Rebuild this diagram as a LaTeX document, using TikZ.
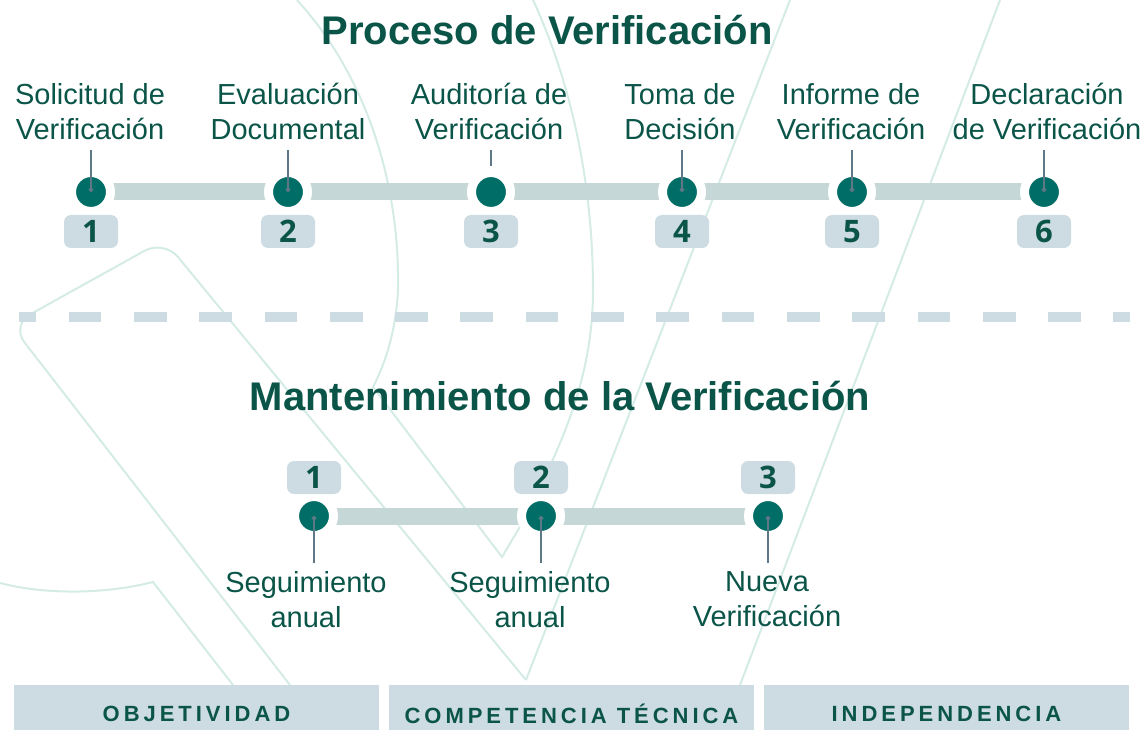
\documentclass[tikz,border=0pt]{standalone}
\usepackage{fontspec}
\setmainfont{Liberation Sans}
\newfontfamily\numfont{Open Sans}
\newfontfamily\capsfont[LetterSpace=18]{Liberation Sans}
\usetikzlibrary{positioning, calc, arrows.meta}

\definecolor{textc}{HTML}{0A5448}
\definecolor{dotc}{HTML}{006D66}
\definecolor{barc}{HTML}{C6D7D7}
\definecolor{boxc}{HTML}{CDDBE2}
\definecolor{leadc}{HTML}{5F7888}
\definecolor{mintc}{HTML}{D4EBE6}

\pgfdeclarelayer{back}
\pgfdeclarelayer{bars}
\pgfsetlayers{back,bars,main}

\begin{document}
\begin{tikzpicture}[
    % GLOBAL CFG
    x=1pt, y=-1pt,
    text=textc,
    % Styles
    title/.style={% For both headings
        font=\bfseries\fontsize{40}{48}\selectfont,
        inner sep=0pt,
    },
    stagelabel/.style={% For the step names
        font=\fontsize{29}{35}\selectfont,
        align=center,
        inner sep=0pt,
    },
    dot/.style={% For the timeline points
        circle,
        fill=dotc,
        draw=white,
        line width=9pt,
        minimum size=39pt,
        inner sep=0pt,
    },
    numbox/.style={% For the step numbers
        rectangle,
        rounded corners=7pt,
        fill=boxc,
        minimum width=54pt,
        minimum height=33pt,
        inner sep=0pt,
        font=\numfont\bfseries\fontsize{31}{31}\selectfont,
    },
    valuebox/.style={% For the three values at the bottom
        rectangle,
        fill=boxc,
        minimum width=365pt,
        minimum height=57pt,
        inner sep=0pt,
        font=\capsfont\bfseries\fontsize{22}{26}\selectfont,
    },
    bar/.style={% Timeline track
        draw=barc,
        line width=17pt,
    },
    leader/.style={% Thin line from label to point
        draw=leadc,
        line width=1.8pt,
        -{Circle[length=4.5pt]},
    },
    bgline/.style={% Watermark strokes
        draw=mintc,
        line width=2pt,
    },
    sep/.style={% Dashed separator
        draw=boxc,
        line width=10pt,
        dash pattern=on 32.65pt off 32.65pt,
        dash phase=15.65pt,
    },
    ]

    \useasboundingbox (0,0) rectangle (1146,730);

    % Watermark behind everything
    \begin{pgfonlayer}{back}
    \draw [bgline] (297,0) .. controls (370,80) and (400,190) .. (398,290)
        .. controls (396,330) and (386,362) .. (373,387) -- (502,557) -- (518,530)
        .. controls (560,450) and (593,380) .. (593,290)
        .. controls (593,180) and (570,80) .. (533,0);
    \draw [bgline, rounded corners=22pt] (290,685) -- (11,325) -- (164,240) -- (526,680);
    \draw [bgline] (0,583) .. controls (50,596) and (110,593) .. (153,582) -- (233,685);
    \draw [bgline] (790,0) -- (526,680);
    \draw [bgline] (1000,0) -- (740,685);
    \end{pgfonlayer}

    % Headings
    \node [title, anchor=base] (title) at (547,45) {Proceso de Verificación};
    \node [title, anchor=base] (mtitle) at (560,410) {Mantenimiento de la Verificación};

    % Draw points named dot#
    \node [dot] (dot1) at (91,192) {};
    \node [dot] (dot2) at (288,192) {};
    \node [dot] (dot3) at (491,192) {};
    \node [dot] (dot4) at (682,192) {};
    \node [dot] (dot5) at (852,192) {};
    \node [dot] (dot6) at (1044,192) {};

    \node [dot] (mdot1) at (314,516) {};
    \node [dot] (mdot2) at (541,516) {};
    \node [dot] (mdot3) at (768,516) {};

    % Draw numbers named num#
    \node [numbox] (num1) at (91,231.5) {1};
    \node [numbox] (num2) at (288,231.5) {2};
    \node [numbox] (num3) at (491,231.5) {3};
    \node [numbox] (num4) at (682,231.5) {4};
    \node [numbox] (num5) at (852,231.5) {5};
    \node [numbox] (num6) at (1044,231.5) {6};

    \node [numbox] (mnum1) at (314,477.5) {1};
    \node [numbox] (mnum2) at (541,477.5) {2};
    \node [numbox] (mnum3) at (768,477.5) {3};

    % Draw labels named lab#
    \node [stagelabel, anchor=south] (lab1) at (90,140) {Solicitud de\\Verificación};
    \node [stagelabel, anchor=south] (lab2) at (288,140) {Evaluación\\Documental};
    \node [stagelabel, anchor=south] (lab3) at (489,140) {Auditoría de\\Verificación};
    \node [stagelabel, anchor=south] (lab4) at (680,140) {Toma de\\Decisión};
    \node [stagelabel, anchor=south] (lab5) at (851,140) {Informe de\\Verificación};
    \node [stagelabel, anchor=south] (lab6) at (1047,140) {Declaración\\de Verificación};

    \node [stagelabel, anchor=north] (mlab1) at (306,571) {Seguimiento\\anual};
    \node [stagelabel, anchor=north] (mlab2) at (530,571) {Seguimiento\\anual};
    \node [stagelabel, anchor=north] (mlab3) at (767,571) {Nueva\\Verificación};

    % Values at the bottom
    \node [valuebox] (obj) at (196.5,713.5) {OBJETIVIDAD};
    \node [valuebox] (comp) at (571.5,713.5) {COMPETENCIA TÉCNICA};
    \node [valuebox] (indep) at (946.5,713.5) {INDEPENDENCIA};

    % Separator
    \coordinate (sepL) at (19,317);
    \coordinate (sepR) at (1130,317);
    \draw [sep] (sepL) -- (sepR);

    % Connect all
    \begin{pgfonlayer}{bars}
    \draw [bar] (dot1.center) -- (dot2.center) -- (dot3.center) -- (dot4.center)
        -- (dot5.center) -- (dot6.center);
    \draw [bar] (mdot1.center) -- (mdot2.center) -- (mdot3.center);
    \end{pgfonlayer}

    % Leaders
    \draw [leader] ($(dot1 |- lab1.south)+(0,10)$) -- (dot1.center);
    \draw [leader] ($(dot2 |- lab2.south)+(0,10)$) -- (dot2.center);
    \draw [leader, -] ($(dot3 |- lab3.south)+(0,10)$) -- ($(dot3 |- lab3.south)+(0,26)$);
    \draw [leader] ($(dot4 |- lab4.south)+(0,10)$) -- (dot4.center);
    \draw [leader] ($(dot5 |- lab5.south)+(0,10)$) -- (dot5.center);
    \draw [leader] ($(dot6 |- lab6.south)+(0,10)$) -- (dot6.center);

    \draw [leader] ($(mdot1 |- mlab1.north)+(0,-8)$) -- (mdot1.center);
    \draw [leader] ($(mdot2 |- mlab2.north)+(0,-8)$) -- (mdot2.center);
    \draw [leader] ($(mdot3 |- mlab3.north)+(0,-8)$) -- (mdot3.center);

\end{tikzpicture}
\end{document}
